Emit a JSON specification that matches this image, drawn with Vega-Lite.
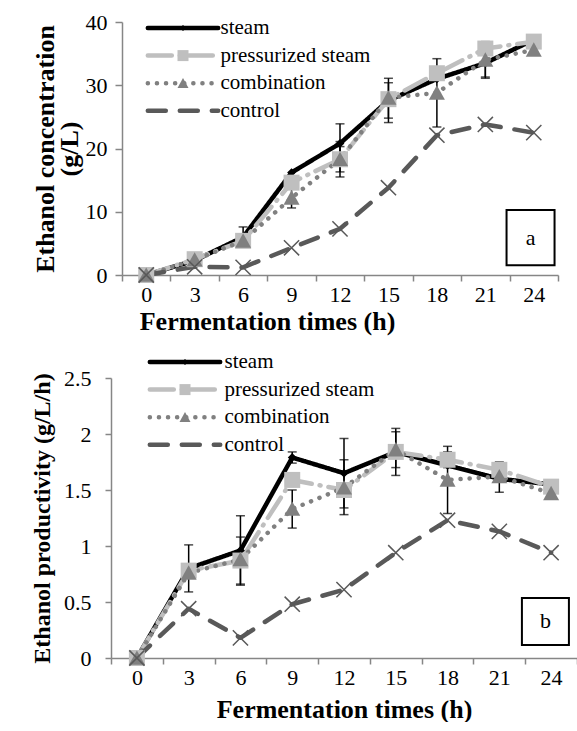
{
  "$schema": "https://vega.github.io/schema/vega-lite/v6.json",
  "background": "white",
  "padding": {"left": 30, "top": 11, "right": 0, "bottom": 0},
  "autosize": {"type": "pad"},
  "config": {
    "view": {"stroke": null},
    "font": "Liberation Serif",
    "axis": {"labelFont": "Liberation Serif", "titleFont": "Liberation Serif", "labelColor": "#000", "titleColor": "#000", "grid": false, "domainColor": "#868686", "tickColor": "#868686", "domainWidth": 1.5, "tickWidth": 1.5, "titleFontWeight": "bold"},
    "legend": {"labelFont": "Liberation Serif", "labelColor": "#000"}
  },
  "datasets": {
    "conc": [
      {"series": "steam", "time": 0, "value": 0}, {"series": "steam", "time": 3, "value": 2.3}, {"series": "steam", "time": 6, "value": 6.0}, {"series": "steam", "time": 9, "value": 16.2}, {"series": "steam", "time": 12, "value": 20.8}, {"series": "steam", "time": 15, "value": 27.6}, {"series": "steam", "time": 18, "value": 31.0}, {"series": "steam", "time": 21, "value": 33.5}, {"series": "steam", "time": 24, "value": 37.2},
      {"series": "pressurized steam", "time": 0, "value": 0}, {"series": "pressurized steam", "time": 3, "value": 2.5}, {"series": "pressurized steam", "time": 6, "value": 5.4}, {"series": "pressurized steam", "time": 9, "value": 14.6}, {"series": "pressurized steam", "time": 12, "value": 18.3}, {"series": "pressurized steam", "time": 15, "value": 27.8}, {"series": "pressurized steam", "time": 18, "value": 31.9}, {"series": "pressurized steam", "time": 21, "value": 35.8}, {"series": "pressurized steam", "time": 24, "value": 36.9},
      {"series": "combination", "time": 0, "value": 0}, {"series": "combination", "time": 3, "value": 2.4}, {"series": "combination", "time": 6, "value": 5.4}, {"series": "combination", "time": 9, "value": 12.2}, {"series": "combination", "time": 12, "value": 18.3}, {"series": "combination", "time": 15, "value": 28.0}, {"series": "combination", "time": 18, "value": 28.8}, {"series": "combination", "time": 21, "value": 34.0}, {"series": "combination", "time": 24, "value": 35.6},
      {"series": "control", "time": 0, "value": 0}, {"series": "control", "time": 3, "value": 1.3}, {"series": "control", "time": 6, "value": 1.2}, {"series": "control", "time": 9, "value": 4.3}, {"series": "control", "time": 12, "value": 7.3}, {"series": "control", "time": 15, "value": 13.8}, {"series": "control", "time": 18, "value": 22.1}, {"series": "control", "time": 21, "value": 23.8}, {"series": "control", "time": 24, "value": 22.5}
    ],
    "prod": [
      {"series": "steam", "time": 0, "value": 0}, {"series": "steam", "time": 3, "value": 0.80}, {"series": "steam", "time": 6, "value": 0.96}, {"series": "steam", "time": 9, "value": 1.79}, {"series": "steam", "time": 12, "value": 1.65}, {"series": "steam", "time": 15, "value": 1.84}, {"series": "steam", "time": 18, "value": 1.72}, {"series": "steam", "time": 21, "value": 1.60}, {"series": "steam", "time": 24, "value": 1.55},
      {"series": "pressurized steam", "time": 0, "value": 0}, {"series": "pressurized steam", "time": 3, "value": 0.78}, {"series": "pressurized steam", "time": 6, "value": 0.87}, {"series": "pressurized steam", "time": 9, "value": 1.59}, {"series": "pressurized steam", "time": 12, "value": 1.50}, {"series": "pressurized steam", "time": 15, "value": 1.84}, {"series": "pressurized steam", "time": 18, "value": 1.77}, {"series": "pressurized steam", "time": 21, "value": 1.68}, {"series": "pressurized steam", "time": 24, "value": 1.53},
      {"series": "combination", "time": 0, "value": 0}, {"series": "combination", "time": 3, "value": 0.76}, {"series": "combination", "time": 6, "value": 0.88}, {"series": "combination", "time": 9, "value": 1.33}, {"series": "combination", "time": 12, "value": 1.52}, {"series": "combination", "time": 15, "value": 1.86}, {"series": "combination", "time": 18, "value": 1.59}, {"series": "combination", "time": 21, "value": 1.62}, {"series": "combination", "time": 24, "value": 1.47},
      {"series": "control", "time": 0, "value": 0}, {"series": "control", "time": 3, "value": 0.44}, {"series": "control", "time": 6, "value": 0.18}, {"series": "control", "time": 9, "value": 0.48}, {"series": "control", "time": 12, "value": 0.61}, {"series": "control", "time": 15, "value": 0.94}, {"series": "control", "time": 18, "value": 1.23}, {"series": "control", "time": 21, "value": 1.13}, {"series": "control", "time": 24, "value": 0.94}
    ],
    "concErr": [
      {"time": 6, "low": 4.4, "high": 7.6}, {"time": 9, "low": 10.6, "high": 13.8}, {"time": 12, "low": 17.7, "high": 23.9}, {"time": 12, "low": 15.5, "high": 21.1}, {"time": 12, "low": 16.3, "high": 20.3}, {"time": 15, "low": 24.1, "high": 31.1}, {"time": 15, "low": 24.8, "high": 30.4}, {"time": 18, "low": 23.4, "high": 34.2}, {"time": 21, "low": 31.3, "high": 35.7}, {"time": 21, "low": 31.1, "high": 36.9}
    ],
    "prodErr": [
      {"time": 3, "low": 0.59, "high": 1.01}, {"time": 6, "low": 0.65, "high": 1.27}, {"time": 6, "low": 0.66, "high": 1.08}, {"time": 9, "low": 1.74, "high": 1.84}, {"time": 9, "low": 1.16, "high": 1.50}, {"time": 12, "low": 1.34, "high": 1.96}, {"time": 12, "low": 1.28, "high": 1.77}, {"time": 15, "low": 1.63, "high": 2.05}, {"time": 15, "low": 1.70, "high": 2.02}, {"time": 18, "low": 1.29, "high": 1.89}, {"time": 18, "low": 1.70, "high": 1.84}, {"time": 21, "low": 1.48, "high": 1.75}, {"time": 24, "low": 1.51, "high": 1.59}
    ]
  },
  "spacing": 17,
  "vconcat": [
    {
      "width": 447,
      "height": 253,
      "layer": [
        {
          "data": {"name": "conc"},
          "mark": {"type": "line", "strokeWidth": 4.5, "strokeCap": "round", "strokeJoin": "round"},
          "encoding": {
            "x": {"field": "time", "type": "quantitative", "scale": {"domain": [-1.5, 25.5], "range": [11, 447], "nice": false, "zero": false},
              "axis": {"values": [-1.5, 1.5, 4.5, 7.5, 10.5, 13.5, 16.5, 19.5, 22.5, 25.5], "labelExpr": "datum.value > 24 ? '' : format(datum.value + 1.5, 'd')", "labelOffset": 24.2, "labelAlign": "center", "labelFontSize": 22, "labelPadding": 3, "labelOverlap": false, "labelFlush": false, "labelBound": false, "tickSize": 6, "title": "Fermentation times (h)", "titleFontSize": 26, "titlePadding": 3, "titleX": 156, "titleAlign": "center"}},
            "y": {"field": "value", "type": "quantitative", "scale": {"domain": [0, 40], "nice": false},
              "axis": {"values": [0, 5, 10, 15, 20, 25, 30, 35, 40], "offset": -11, "tickSize": 7, "labelPadding": 8, "labelFontSize": 22, "title": ["Ethanol concentration", "(g/L)"], "titleFontSize": 26, "titlePadding": 3, "titleLineHeight": 24}},
            "stroke": {"field": "series", "type": "nominal",
              "scale": {"domain": ["steam", "pressurized steam", "combination", "control"], "range": ["#000000", "#bfbfbf", "#808080", "#595959"]},
              "legend": {"orient": "none", "legendX": 31, "legendY": -4.5, "title": null, "direction": "vertical", "symbolType": "M-6.4,0H6.4", "symbolSize": 121, "symbolStrokeWidth": 4.5, "symbolOffset": 30.5, "labelOffset": 27, "labelFontSize": 21, "labelLimit": 400, "rowPadding": 5.6, "padding": 0,
                "encode": {"symbols": {"update": {"fill": {"value": "transparent"}, "strokeCap": {"value": "round"}}}}}},
            "strokeDash": {"field": "series", "type": "nominal",
              "scale": {"domain": ["steam", "pressurized steam", "combination", "control"], "range": [[1, 0], [24, 8, 1, 8], [0.1, 9], [18, 14]]},
              "legend": {"orient": "none", "legendX": 31, "legendY": -4.5, "title": null, "direction": "vertical", "symbolType": "M-6.4,0H6.4", "symbolSize": 121, "symbolStrokeWidth": 4.5, "symbolOffset": 30.5, "labelOffset": 27, "labelFontSize": 21, "labelLimit": 400, "rowPadding": 5.6, "padding": 0,
                "encode": {"symbols": {"update": {"fill": {"value": "transparent"}, "strokeCap": {"value": "round"}}}}}}
          }
        },
        {
          "data": {"name": "concErr"},
          "mark": {"type": "rule", "color": "#000", "strokeWidth": 1.5},
          "encoding": {
            "x": {"field": "time", "type": "quantitative"},
            "y": {"field": "low", "type": "quantitative"},
            "y2": {"field": "high"}
          }
        },
        {
          "data": {"name": "concErr"},
          "mark": {"type": "tick", "orient": "horizontal", "color": "#000", "size": 9, "thickness": 1.5},
          "encoding": {
            "x": {"field": "time", "type": "quantitative"},
            "y": {"field": "low", "type": "quantitative"}
          }
        },
        {
          "data": {"name": "concErr"},
          "mark": {"type": "tick", "orient": "horizontal", "color": "#000", "size": 9, "thickness": 1.5},
          "encoding": {
            "x": {"field": "time", "type": "quantitative"},
            "y": {"field": "high", "type": "quantitative"}
          }
        },
        {
          "data": {"name": "conc"},
          "mark": {"type": "point", "filled": true, "size": 256, "strokeWidth": 1.5, "opacity": 1},
          "encoding": {
            "x": {"field": "time", "type": "quantitative"},
            "y": {"field": "value", "type": "quantitative"},
            "fill": {"field": "series", "type": "nominal", "sort": {"field": "value", "op": "sum", "order": "descending"},
              "scale": {"range": ["#000000", "#bfbfbf", "#808080", "#595959"]},
              "legend": {"orient": "none", "legendX": 31, "legendY": -4.5, "title": null, "direction": "vertical", "symbolSize": 121, "symbolStrokeWidth": 1.5, "symbolOffset": 30.5, "labelOffset": 27, "labelFontSize": 21, "labelLimit": 400, "labelOpacity": 0, "rowPadding": 5.6, "padding": 0,
                "encode": {"symbols": {"update": {"stroke": {"signal": "datum.value === 'control' ? '#595959' : 'transparent'"}, "strokeWidth": {"value": 1.5}, "opacity": {"value": 1}}}}}},
            "shape": {"field": "series", "type": "nominal", "sort": {"field": "value", "op": "sum", "order": "descending"},
              "scale": {"range": ["M0,-0.55L0.55,0L0,0.55L-0.55,0Z", "M-1,-1H1V1H-1Z", "M0,-0.95L1,0.85H-1Z", "M-0.95,-0.95L0.95,0.95M-0.95,0.95L0.95,-0.95"]},
              "legend": {"orient": "none", "legendX": 31, "legendY": -4.5, "title": null, "direction": "vertical", "symbolSize": 121, "symbolStrokeWidth": 1.5, "symbolOffset": 30.5, "labelOffset": 27, "labelFontSize": 21, "labelLimit": 400, "labelOpacity": 0, "rowPadding": 5.6, "padding": 0,
                "encode": {"symbols": {"update": {"stroke": {"signal": "datum.value === 'control' ? '#595959' : 'transparent'"}, "strokeWidth": {"value": 1.5}, "opacity": {"value": 1}}}}}},
            "stroke": {"condition": {"test": "datum.series === 'control'", "value": "#595959"}, "value": "transparent"}
          }
        },
        {
          "data": {"values": [{}]},
          "mark": {"type": "point", "shape": "M-1,-1.15H1V1.15H-1Z", "size": 2304, "filled": false, "fill": "white", "stroke": "#000", "strokeWidth": 2, "opacity": 1},
          "encoding": {
            "x": {"datum": 23.8, "type": "quantitative"},
            "y": {"datum": 5.9, "type": "quantitative"}
          }
        },
        {
          "data": {"values": [{}]},
          "mark": {"type": "text", "text": "a", "fontSize": 22, "font": "Liberation Serif", "baseline": "middle", "align": "center", "color": "#000"},
          "encoding": {
            "x": {"datum": 23.8, "type": "quantitative"},
            "y": {"datum": 5.9, "type": "quantitative"}
          }
        }
      ]
    },
    {
      "width": 466,
      "height": 280,
      "layer": [
        {
          "data": {"name": "prod"},
          "mark": {"type": "line", "strokeWidth": 4.5, "strokeCap": "round", "strokeJoin": "round"},
          "encoding": {
            "x": {"field": "time", "type": "quantitative", "scale": {"domain": [-1.5, 25.5], "nice": false, "zero": false},
              "axis": {"values": [-1.5, 1.5, 4.5, 7.5, 10.5, 13.5, 16.5, 19.5, 22.5, 25.5], "labelExpr": "datum.value > 24 ? '' : format(datum.value + 1.5, 'd')", "labelOffset": 25.9, "labelAlign": "center", "labelFontSize": 22, "labelPadding": 3, "labelOverlap": false, "labelFlush": false, "labelBound": false, "tickSize": 6, "title": "Fermentation times (h)", "titleFontSize": 26, "titlePadding": 8}},
            "y": {"field": "value", "type": "quantitative", "scale": {"domain": [0, 2.5], "nice": false},
              "axis": {"values": [0, 0.5, 1, 1.5, 2, 2.5], "format": "~g", "tickSize": 6, "labelPadding": 14, "labelFontSize": 22, "title": "Ethanol productivity (g/L/h)", "titleFontSize": 24, "titlePadding": 9}},
            "stroke": {"field": "series", "type": "nominal",
              "scale": {"domain": ["steam", "pressurized steam", "combination", "control"], "range": ["#000000", "#bfbfbf", "#808080", "#595959"]},
              "legend": {"orient": "none", "legendX": 33, "legendY": -26.5, "title": null, "direction": "vertical", "symbolType": "M-6.4,0H6.4", "symbolSize": 121, "symbolStrokeWidth": 4.5, "symbolOffset": 30.5, "labelOffset": 29, "labelFontSize": 21, "labelLimit": 400, "rowPadding": 5.6, "padding": 0,
                "encode": {"symbols": {"update": {"fill": {"value": "transparent"}, "strokeCap": {"value": "round"}}}}}},
            "strokeDash": {"field": "series", "type": "nominal",
              "scale": {"domain": ["steam", "pressurized steam", "combination", "control"], "range": [[1, 0], [24, 8, 1, 8], [0.1, 9], [18, 14]]},
              "legend": {"orient": "none", "legendX": 33, "legendY": -26.5, "title": null, "direction": "vertical", "symbolType": "M-6.4,0H6.4", "symbolSize": 121, "symbolStrokeWidth": 4.5, "symbolOffset": 30.5, "labelOffset": 29, "labelFontSize": 21, "labelLimit": 400, "rowPadding": 5.6, "padding": 0,
                "encode": {"symbols": {"update": {"fill": {"value": "transparent"}, "strokeCap": {"value": "round"}}}}}}
          }
        },
        {
          "data": {"name": "prodErr"},
          "mark": {"type": "rule", "color": "#000", "strokeWidth": 1.5},
          "encoding": {
            "x": {"field": "time", "type": "quantitative"},
            "y": {"field": "low", "type": "quantitative"},
            "y2": {"field": "high"}
          }
        },
        {
          "data": {"name": "prodErr"},
          "mark": {"type": "tick", "orient": "horizontal", "color": "#000", "size": 9, "thickness": 1.5},
          "encoding": {
            "x": {"field": "time", "type": "quantitative"},
            "y": {"field": "low", "type": "quantitative"}
          }
        },
        {
          "data": {"name": "prodErr"},
          "mark": {"type": "tick", "orient": "horizontal", "color": "#000", "size": 9, "thickness": 1.5},
          "encoding": {
            "x": {"field": "time", "type": "quantitative"},
            "y": {"field": "high", "type": "quantitative"}
          }
        },
        {
          "data": {"name": "prod"},
          "mark": {"type": "point", "filled": true, "size": 256, "strokeWidth": 1.5, "opacity": 1},
          "encoding": {
            "x": {"field": "time", "type": "quantitative"},
            "y": {"field": "value", "type": "quantitative"},
            "fill": {"field": "series", "type": "nominal", "sort": {"field": "value", "op": "sum", "order": "descending"},
              "scale": {"range": ["#000000", "#bfbfbf", "#808080", "#595959"]},
              "legend": {"orient": "none", "legendX": 33, "legendY": -26.5, "title": null, "direction": "vertical", "symbolSize": 121, "symbolStrokeWidth": 1.5, "symbolOffset": 30.5, "labelOffset": 29, "labelFontSize": 21, "labelLimit": 400, "labelOpacity": 0, "rowPadding": 5.6, "padding": 0,
                "encode": {"symbols": {"update": {"stroke": {"signal": "datum.value === 'control' ? '#595959' : 'transparent'"}, "strokeWidth": {"value": 1.5}, "opacity": {"value": 1}}}}}},
            "shape": {"field": "series", "type": "nominal", "sort": {"field": "value", "op": "sum", "order": "descending"},
              "scale": {"range": ["M0,-0.55L0.55,0L0,0.55L-0.55,0Z", "M-1,-1H1V1H-1Z", "M0,-0.95L1,0.85H-1Z", "M-0.95,-0.95L0.95,0.95M-0.95,0.95L0.95,-0.95"]},
              "legend": {"orient": "none", "legendX": 33, "legendY": -26.5, "title": null, "direction": "vertical", "symbolSize": 121, "symbolStrokeWidth": 1.5, "symbolOffset": 30.5, "labelOffset": 29, "labelFontSize": 21, "labelLimit": 400, "labelOpacity": 0, "rowPadding": 5.6, "padding": 0,
                "encode": {"symbols": {"update": {"stroke": {"signal": "datum.value === 'control' ? '#595959' : 'transparent'"}, "strokeWidth": {"value": 1.5}, "opacity": {"value": 1}}}}}},
            "stroke": {"condition": {"test": "datum.series === 'control'", "value": "#595959"}, "value": "transparent"}
          }
        },
        {
          "data": {"values": [{}]},
          "mark": {"type": "point", "shape": "M-1,-1H1V1H-1Z", "size": 2209, "filled": false, "fill": "white", "stroke": "#000", "strokeWidth": 2, "opacity": 1},
          "encoding": {
            "x": {"datum": 23.67, "type": "quantitative"},
            "y": {"datum": 0.326, "type": "quantitative"}
          }
        },
        {
          "data": {"values": [{}]},
          "mark": {"type": "text", "text": "b", "fontSize": 22, "font": "Liberation Serif", "baseline": "middle", "align": "center", "color": "#000"},
          "encoding": {
            "x": {"datum": 23.67, "type": "quantitative"},
            "y": {"datum": 0.326, "type": "quantitative"}
          }
        }
      ]
    }
  ],
  "resolve": {
    "scale": {"x": "independent", "y": "independent", "stroke": "independent", "strokeDash": "independent", "fill": "independent", "shape": "independent"},
    "legend": {"stroke": "independent", "strokeDash": "independent", "fill": "independent", "shape": "independent"}
  }
}
